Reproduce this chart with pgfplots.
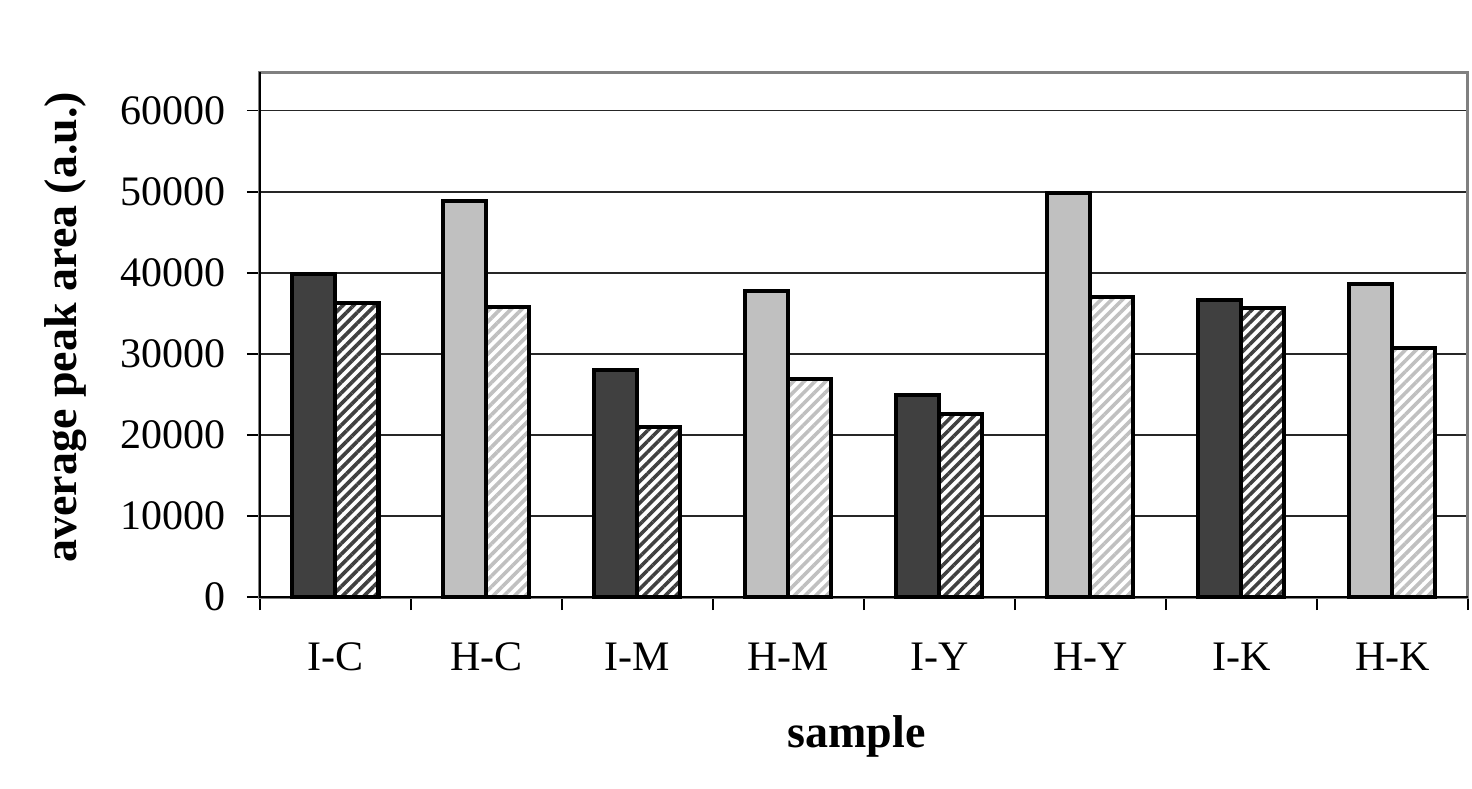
\documentclass[border=0pt]{standalone}
\usepackage{pgfplots}
\pgfplotsset{compat=1.18}
\usepackage{fontspec}
\setmainfont{Liberation Serif}
\usetikzlibrary{patterns.meta}
\definecolor{dk}{HTML}{404040}
\definecolor{lt}{HTML}{C0C0C0}
\definecolor{bordergray}{HTML}{808080}

\begin{document}
\begin{tikzpicture}[x=1pt,y=1pt]
\fill[white] (0,0) rectangle (736,394);
\useasboundingbox (0,0) rectangle (736,394);
\begin{axis}[
  at={(130pt,95.5pt)}, anchor=south west,
  scale only axis, width=604pt, height=262.5pt,
  xmin=-0.5, xmax=7.5, ymin=0, ymax=64800,
  xtick={-0.5,0.5,...,7.5}, x tick label as interval,
  xticklabels={I-C,H-C,I-M,H-M,I-Y,H-Y,I-K,H-K},
  ytick={0,10000,...,60000},
  xtick pos=lower, ytick pos=left,
  scaled y ticks=false,
  /pgf/number format/.cd, 1000 sep={}, assume math mode=true, /pgfplots/.cd,
  ymajorgrids, grid style={black!85, line width=0.6pt},
  tick align=outside, major tick length=6.5pt,
  tick style={black, line width=0.6pt},
  axis line style={draw=bordergray, line width=1.5pt},
  ticklabel style={font=\fontsize{21}{25}\selectfont},
  xticklabel style={yshift=-13pt},
  yticklabel style={xshift=-7pt},
  xlabel={sample},
  xlabel style={at={(axis description cs:0.4938,0)}, anchor=base, yshift=-75pt, font=\bfseries\fontsize{23}{27}\selectfont},
  ylabel={average peak area (a.u.)},
  ylabel style={at={(axis description cs:-0.1523,0.514)}, anchor=base, font=\bfseries\fontsize{23}{27}\selectfont},
  clip=false,
]
\addplot[ybar, bar width=21.5pt, bar shift=-10.75pt, fill=dk, draw=black, line width=2pt]
  coordinates {(0,39900) (2,28000) (4,24900) (6,36700)};
\addplot[ybar, bar width=21.5pt, bar shift=10.75pt, preaction={fill=white}, pattern={Lines[angle=45,distance=3.8pt,line width=1.8pt]}, pattern color=dk, draw=black, line width=2pt]
  coordinates {(0,36300) (2,21000) (4,22600) (6,35700)};
\addplot[ybar, bar width=21.5pt, bar shift=-10.75pt, fill=lt, draw=black, line width=2pt]
  coordinates {(1,48900) (3,37800) (5,49900) (7,38600)};
\addplot[ybar, bar width=21.5pt, bar shift=10.75pt, preaction={fill=white}, pattern={Lines[angle=45,distance=3.8pt,line width=1.8pt]}, pattern color=lt, draw=black, line width=2pt]
  coordinates {(1,35800) (3,26900) (5,37000) (7,30700)};
\draw[black, line width=0.8pt] (axis cs:-0.5,64800) -- (axis cs:-0.5,0) -- (axis cs:7.5,0);
\end{axis}
\end{tikzpicture}
\end{document}
